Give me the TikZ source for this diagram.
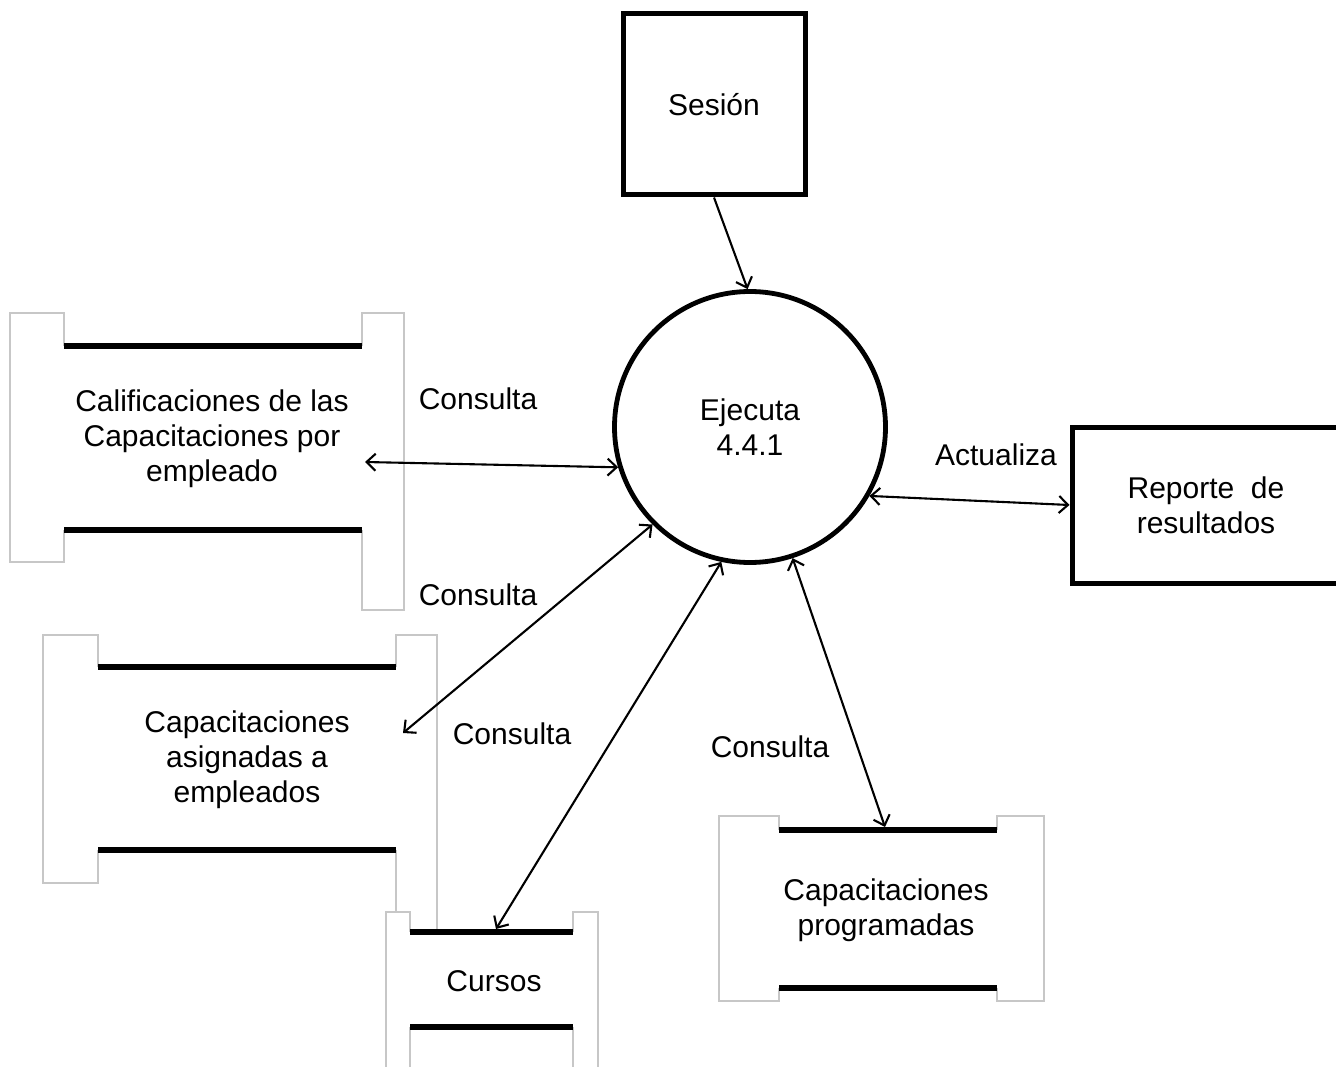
\documentclass[tikz,border=0pt]{standalone}
\usepackage{fontspec}
\setmainfont{Liberation Sans}
\usetikzlibrary{arrows.meta}
\begin{document}
\begin{tikzpicture}[x=1pt,y=-1pt,
  txt/.style={font=\fontsize{30}{35}\selectfont, align=center, inner sep=0pt},
  extbox/.style={draw, line width=5pt, inner sep=0pt},
  procstyle/.style={draw, circle, line width=4.8pt, minimum size=271pt, inner sep=0pt},
  storeedge/.style={draw=black!22, line width=1.3pt},
  storeline/.style={draw, line width=5.5pt},
  flow/.style={line width=2.1pt, {Straight Barb[length=9pt,width=17pt,line width=2.1pt]}-{Straight Barb[length=9pt,width=17pt,line width=2.1pt]}},
  flowone/.style={line width=2.1pt, -{Straight Barb[length=9pt,width=17pt,line width=2.1pt]}}
]
\useasboundingbox[fill=white] (0,0) rectangle (1336,1067);

% ---- external entities
\node[extbox, minimum width=182pt, minimum height=181pt, txt] (sesion) at (714,104.5) {Sesión};
\node[extbox, minimum width=273pt, minimum height=156pt] (rep) at (1208.5,505) {};
\node[txt] (reptxt) at (1206,505) {Reporte\ \ de\\resultados};

% ---- process
\node[procstyle, txt] (proc) at (750,427) {Ejecuta\\4.4.1};

% ---- store 1: Calificaciones
\path[storeedge] (64,346)--(64,313)--(10,313)--(10,562)--(64,562)--(64,530);
\path[storeedge] (362,346)--(362,313)--(404,313)--(404,610)--(362,610)--(362,530);
\path[storeline] (64,346)--(362,346) (64,530)--(362,530);
\node[txt] (calif) at (212,439) {Calificaciones de las\\Capacitaciones por\\empleado};
\coordinate (califR) at (365,462);

% ---- store 2: Capacitaciones asignadas
\path[storeedge] (98,667)--(98,635)--(43,635)--(43,883)--(98,883)--(98,850);
\path[storeedge] (396,667)--(396,635)--(437,635)--(437,960);
\path[storeedge] (396,850)--(396,960);
\path[storeline] (98,667)--(396,667) (98,850)--(396,850);
\node[txt] (asig) at (247,760) {Capacitaciones\\asignadas a\\empleados};
\coordinate (asigR) at (403,733);

% ---- store 3: Cursos
\fill[white] (386,912)--(410,912)--(410,932)--(573,932)--(573,912)--(598,912)--(598,1080)--(386,1080)--cycle;
\path[storeedge] (410,932)--(410,912)--(386,912)--(386,1080);
\path[storeedge] (410,1027)--(410,1080);
\path[storeedge] (573,932)--(573,912)--(598,912)--(598,1080);
\path[storeedge] (573,1027)--(573,1080);
\path[storeline] (410,932)--(573,932) (410,1027)--(573,1027);
\node[txt] (cursos) at (494,981) {Cursos};
\coordinate (cursosT) at (496,929);

% ---- store 4: Capacitaciones programadas
\path[storeedge] (779,830)--(779,816)--(719,816)--(719,1001)--(779,1001)--(779,988);
\path[storeedge] (997,830)--(997,816)--(1044,816)--(1044,1001)--(997,1001)--(997,988);
\path[storeline] (779,830)--(997,830) (779,988)--(997,988);
\node[txt] (prog) at (886,910) {Capacitaciones\\programadas};
\coordinate (progT) at (885,827);

% ---- flows
\draw[flowone] (sesion.south) -- (proc.91);
\draw[flow] (califR) -- (proc.197);
\draw[flow] (asigR) -- (proc.225);
\draw[flow] (cursosT) -- (proc.258);
\draw[flow] (progT) -- (proc.288);
\draw[flow] (proc.330) -- (rep.west);

% ---- flow labels
\node[txt] (l1) at (478,399) {Consulta};
\node[txt] (l2) at (478,595) {Consulta};
\node[txt] (l3) at (512,734) {Consulta};
\node[txt] (l4) at (770,747) {Consulta};
\node[txt] (l5) at (996,455) {Actualiza};
\end{tikzpicture}
\end{document}
